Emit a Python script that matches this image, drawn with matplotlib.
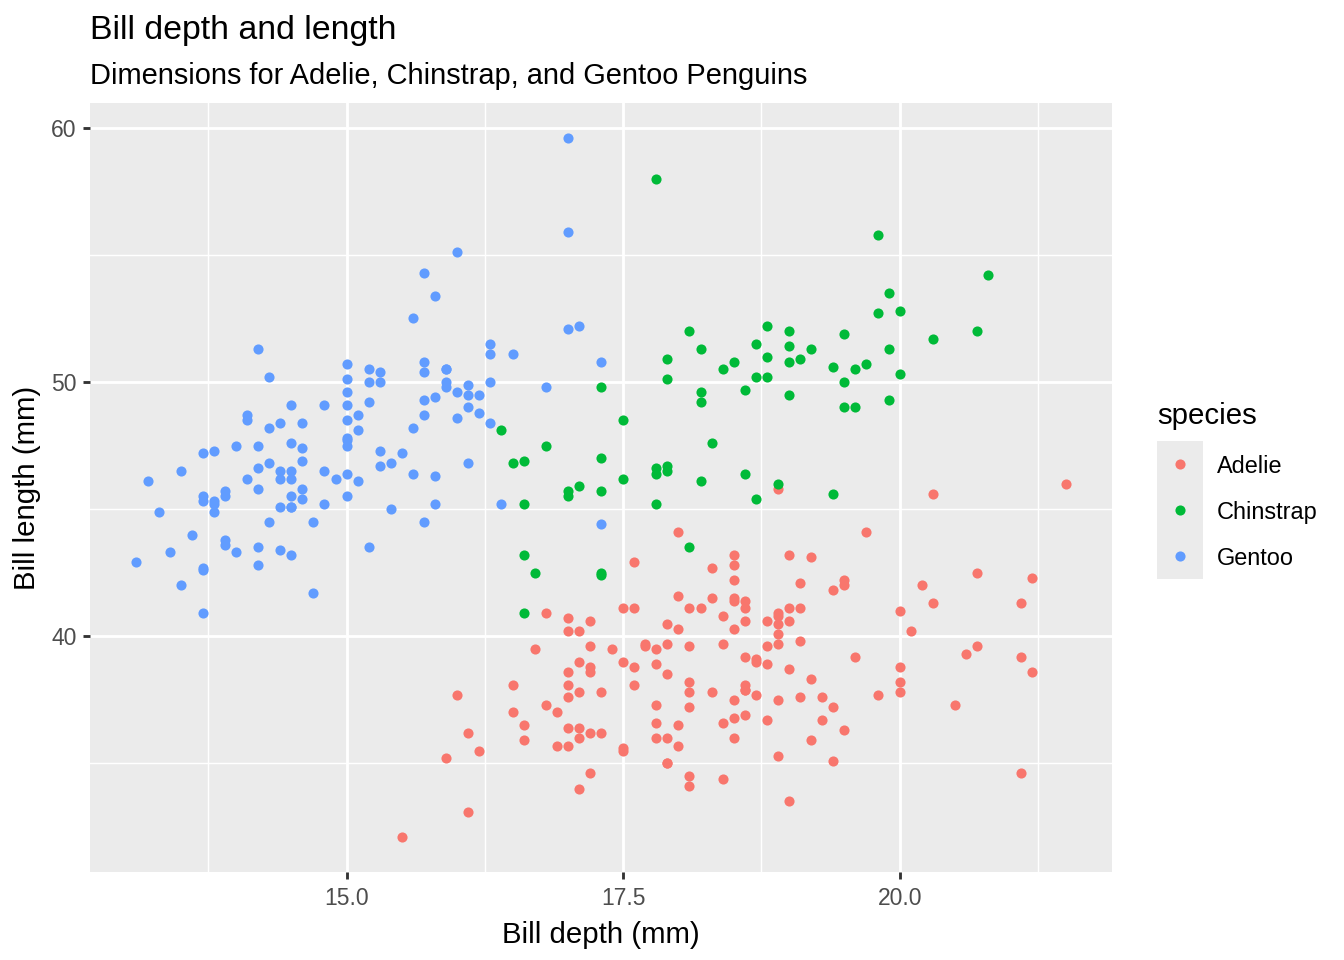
import matplotlib
matplotlib.use("Agg")
import matplotlib.pyplot as plt
import numpy as np

plt.rcParams['font.family'] = ['Liberation Sans', 'DejaVu Sans']

species = ['Adelie', 'Chinstrap', 'Gentoo']
colors = ['#F8766D', '#00BA38', '#619CFF']

# Adelie
adelie_length = [39.1, 39.5, 40.3, 36.7, 39.3, 38.9, 39.2, 34.1, 42.0, 37.8, 37.8, 41.1, 38.6, 34.6,
                 36.6, 38.7, 42.5, 34.4, 46.0, 37.8, 37.7, 35.9, 38.2, 38.8, 35.3, 40.6, 40.5, 37.9,
                 40.5, 39.5, 37.2, 39.5, 40.9, 36.4, 39.2, 38.8, 42.2, 37.6, 39.8, 36.5, 40.8, 36.0,
                 44.1, 37.0, 39.6, 41.1, 37.5, 36.0, 42.3, 39.6, 40.1, 35.0, 42.0, 34.5, 41.4, 39.0,
                 40.6, 36.5, 37.6, 35.7, 41.3, 37.6, 41.1, 36.4, 41.6, 35.5, 41.1, 35.9, 41.8, 33.5,
                 39.7, 39.6, 45.8, 35.5, 42.8, 40.9, 37.2, 36.2, 42.1, 34.6, 42.9, 36.7, 35.1, 37.3,
                 41.3, 36.3, 36.9, 38.3, 38.9, 35.7, 41.1, 34.0, 39.6, 36.2, 40.8, 38.1, 40.3, 33.1,
                 43.2, 35.0, 41.0, 37.7, 37.8, 37.9, 39.7, 38.6, 38.2, 38.1, 43.2, 38.1, 45.6, 39.7,
                 42.2, 39.6, 42.7, 38.6, 37.3, 35.7, 41.1, 36.2, 37.7, 40.2, 41.4, 35.2, 40.6, 38.8,
                 41.5, 39.0, 44.1, 38.5, 43.1, 36.8, 37.5, 38.1, 41.1, 35.6, 40.2, 37.0, 39.7, 40.2,
                 40.6, 32.1, 40.7, 37.3, 39.0, 39.2, 36.6, 36.0, 37.8, 36.0, 41.5]
adelie_depth = [18.7, 17.4, 18.0, 19.3, 20.6, 17.8, 19.6, 18.1, 20.2, 17.1, 17.3, 17.6, 21.2, 21.1,
                17.8, 19.0, 20.7, 18.4, 21.5, 18.3, 18.7, 19.2, 18.1, 17.2, 18.9, 18.6, 17.9, 18.6,
                18.9, 16.7, 18.1, 17.8, 18.9, 17.0, 21.1, 20.0, 18.5, 19.3, 19.1, 18.0, 18.4, 18.5,
                19.7, 16.9, 18.8, 19.0, 18.9, 17.9, 21.2, 17.7, 18.9, 17.9, 19.5, 18.1, 18.6, 17.5,
                18.8, 16.6, 19.1, 16.9, 21.1, 17.0, 18.2, 17.1, 18.0, 16.2, 19.1, 16.6, 19.4, 19.0,
                18.4, 17.2, 18.9, 17.5, 18.5, 16.8, 19.4, 16.1, 19.1, 17.2, 17.6, 18.8, 19.4, 17.8,
                20.3, 19.5, 18.6, 19.2, 18.8, 18.0, 18.1, 17.1, 18.1, 17.3, 18.9, 18.6, 18.5, 16.1,
                18.5, 17.9, 20.0, 16.0, 20.0, 18.6, 18.9, 17.2, 20.0, 17.0, 19.0, 16.5, 20.3, 17.7,
                19.5, 20.7, 18.3, 17.0, 20.5, 17.0, 18.6, 17.2, 19.8, 17.0, 18.5, 15.9, 19.0, 17.6,
                18.3, 17.1, 18.0, 17.9, 19.2, 18.5, 18.5, 17.6, 17.5, 17.5, 20.1, 16.5, 17.9, 17.1,
                17.2, 15.5, 17.0, 16.8, 18.7, 18.6, 18.4, 17.8, 18.1, 17.1, 18.5]

# Chinstrap
chinstrap_length = [46.5, 50.0, 51.3, 45.4, 52.7, 45.2, 46.1, 51.3, 46.0, 51.3, 46.6, 51.7, 47.0, 52.0,
                    45.9, 50.5, 50.3, 58.0, 46.4, 49.2, 42.4, 48.5, 43.2, 50.6, 46.7, 52.0, 50.5, 49.5,
                    46.4, 52.8, 40.9, 54.2, 42.5, 51.0, 49.7, 47.5, 47.6, 52.0, 46.9, 53.5, 49.0, 46.2,
                    50.9, 45.5, 50.9, 50.8, 50.1, 49.0, 51.5, 49.8, 48.1, 51.4, 45.7, 50.7, 42.5, 52.2,
                    45.2, 49.3, 50.2, 45.6, 51.9, 46.8, 45.7, 55.8, 43.5, 49.6, 50.8, 50.2]
chinstrap_depth = [17.9, 19.5, 19.2, 18.7, 19.8, 17.8, 18.2, 18.2, 18.9, 19.9, 17.8, 20.3, 17.3, 18.1,
                   17.1, 19.6, 20.0, 17.8, 18.6, 18.2, 17.3, 17.5, 16.6, 19.4, 17.9, 19.0, 18.4, 19.0,
                   17.8, 20.0, 16.6, 20.8, 16.7, 18.8, 18.6, 16.8, 18.3, 20.7, 16.6, 19.9, 19.5, 17.5,
                   19.1, 17.0, 17.9, 18.5, 17.9, 19.6, 18.7, 17.3, 16.4, 19.0, 17.3, 19.7, 17.3, 18.8,
                   16.6, 19.9, 18.8, 19.4, 19.5, 16.5, 17.0, 19.8, 18.1, 18.2, 19.0, 18.7]

# Gentoo
gentoo_length = [46.1, 50.0, 48.7, 50.0, 47.6, 46.5, 45.4, 46.7, 43.3, 46.8, 40.9, 49.0, 45.5, 48.4,
                 45.8, 49.3, 42.0, 49.2, 46.2, 48.7, 50.2, 45.1, 46.5, 46.3, 42.9, 46.1, 44.5, 47.8,
                 48.2, 50.0, 47.3, 42.8, 45.1, 59.6, 49.1, 48.4, 42.6, 44.4, 44.0, 48.7, 42.7, 49.6,
                 45.3, 49.6, 50.5, 43.6, 45.5, 50.5, 44.9, 45.2, 46.6, 48.5, 45.1, 50.1, 46.5, 45.0,
                 43.8, 45.5, 43.2, 50.4, 45.3, 46.2, 45.7, 54.3, 45.8, 49.8, 46.2, 49.5, 43.5, 50.7,
                 47.7, 46.4, 48.2, 46.5, 46.4, 48.6, 47.5, 51.1, 45.2, 45.2, 49.1, 52.5, 47.4, 50.0,
                 44.9, 50.8, 43.4, 51.3, 47.5, 52.1, 47.5, 52.2, 45.5, 49.5, 44.5, 50.8, 49.4, 46.9,
                 48.4, 51.1, 48.5, 55.9, 47.2, 49.1, 47.3, 46.8, 41.7, 53.4, 43.3, 48.1, 50.5, 49.8,
                 43.5, 51.5, 46.2, 55.1, 44.5, 48.8, 47.2, 46.8, 50.4, 45.2, 49.9]
gentoo_depth = [13.2, 16.3, 14.1, 15.2, 14.5, 13.5, 14.6, 15.3, 13.4, 15.4, 13.7, 16.1, 13.7, 14.6,
                14.6, 15.7, 13.5, 15.2, 14.5, 15.1, 14.3, 14.5, 14.5, 15.8, 13.1, 15.1, 14.3, 15.0,
                14.3, 15.3, 15.3, 14.2, 14.5, 17.0, 14.8, 16.3, 13.7, 17.3, 13.6, 15.7, 13.7, 16.0,
                13.7, 15.0, 15.9, 13.9, 13.9, 15.9, 13.3, 15.8, 14.2, 14.1, 14.4, 15.0, 14.4, 15.4,
                13.9, 15.0, 14.5, 15.3, 13.8, 14.9, 13.9, 15.7, 14.2, 16.8, 14.4, 16.2, 14.2, 15.0,
                15.0, 15.6, 15.6, 14.8, 15.0, 16.0, 14.2, 16.3, 13.8, 16.4, 14.5, 15.6, 14.6, 15.9,
                13.8, 17.3, 14.4, 14.2, 14.0, 17.0, 15.0, 17.1, 14.5, 16.1, 14.7, 15.7, 15.8, 14.6,
                14.4, 16.5, 15.0, 17.0, 15.5, 15.0, 13.8, 16.1, 14.7, 15.8, 14.0, 15.1, 15.2, 15.9,
                15.2, 16.3, 14.1, 16.0, 15.7, 16.2, 13.7, 14.3, 15.7, 14.8, 16.1]

depths = [adelie_depth, chinstrap_depth, gentoo_depth]
lengths = [adelie_length, chinstrap_length, gentoo_length]

panel_bg = '#EBEBEB'
dark = '#333333'
tick_col = '#4D4D4D'

fig = plt.figure(figsize=(7, 5), dpi=192)
ax = fig.add_axes([90 / 1344, 1 - 872 / 960, (1112 - 90) / 1344, (872 - 103) / 960])
ax.set_facecolor(panel_bg)
for s in ax.spines.values():
    s.set_visible(False)

for sp, col, d, l in zip(species, colors, depths, lengths):
    ax.plot(d, l, 'o', color=col, markersize=3.8, markeredgewidth=0, label=sp)

all_d = np.concatenate([np.array(d) for d in depths])
all_l = np.concatenate([np.array(l) for l in lengths])
dr = all_d.max() - all_d.min()
lr = all_l.max() - all_l.min()
ax.set_xlim(all_d.min() - 0.05 * dr, all_d.max() + 0.05 * dr)
ax.set_ylim(all_l.min() - 0.05 * lr, all_l.max() + 0.05 * lr)

ax.set_xticks([15.0, 17.5, 20.0])
ax.set_xticklabels(['15.0', '17.5', '20.0'])
ax.set_yticks([40, 50, 60])
ax.set_xticks([13.75, 16.25, 18.75, 21.25], minor=True)
ax.set_yticks([35, 45, 55], minor=True)
ax.grid(which='major', color='white', linewidth=1.07)
ax.grid(which='minor', color='white', linewidth=0.53)
ax.set_axisbelow(True)
ax.tick_params(which='major', length=2.75, width=1.07, color=dark,
               labelsize=8.6, labelcolor=tick_col, pad=2.2)
ax.tick_params(axis='x', which='major', pad=3.0)
ax.tick_params(which='minor', length=0)

ax.set_xlabel('Bill depth (mm)', fontsize=11, color='black', labelpad=4)
ax.set_ylabel('Bill length (mm)', fontsize=11, color='black', labelpad=4)

fig.text(90 / 1344, 1 - 31 / 960, 'Bill depth and length', fontsize=12.7,
         ha='left', va='center', color='black')
fig.text(90 / 1344, 1 - 76 / 960, 'Dimensions for Adelie, Chinstrap, and Gentoo Penguins',
         fontsize=10.9, ha='left', va='center', color='black')

# legend
lax = fig.add_axes([1157 / 1344, 1 - 579 / 960, 46 / 1344, 138 / 960])
lax.set_facecolor(panel_bg)
for s in lax.spines.values():
    s.set_visible(False)
lax.set_xticks([])
lax.set_yticks([])
lax.set_xlim(0, 1)
lax.set_ylim(len(species) - 0.5, -0.5)
for i, (sp, col) in enumerate(zip(species, colors)):
    lax.plot([0.5], [i], 'o', color=col, markersize=3.8, markeredgewidth=0)
    lax.text(1.3, i + 0.06, sp, fontsize=8.8, ha='left', va='center', color='black',
             transform=lax.transData, clip_on=False)
fig.text(1157 / 1344, 1 - 416 / 960, 'species', fontsize=11, ha='left', va='center')

fig.savefig('out.png', dpi=192)
